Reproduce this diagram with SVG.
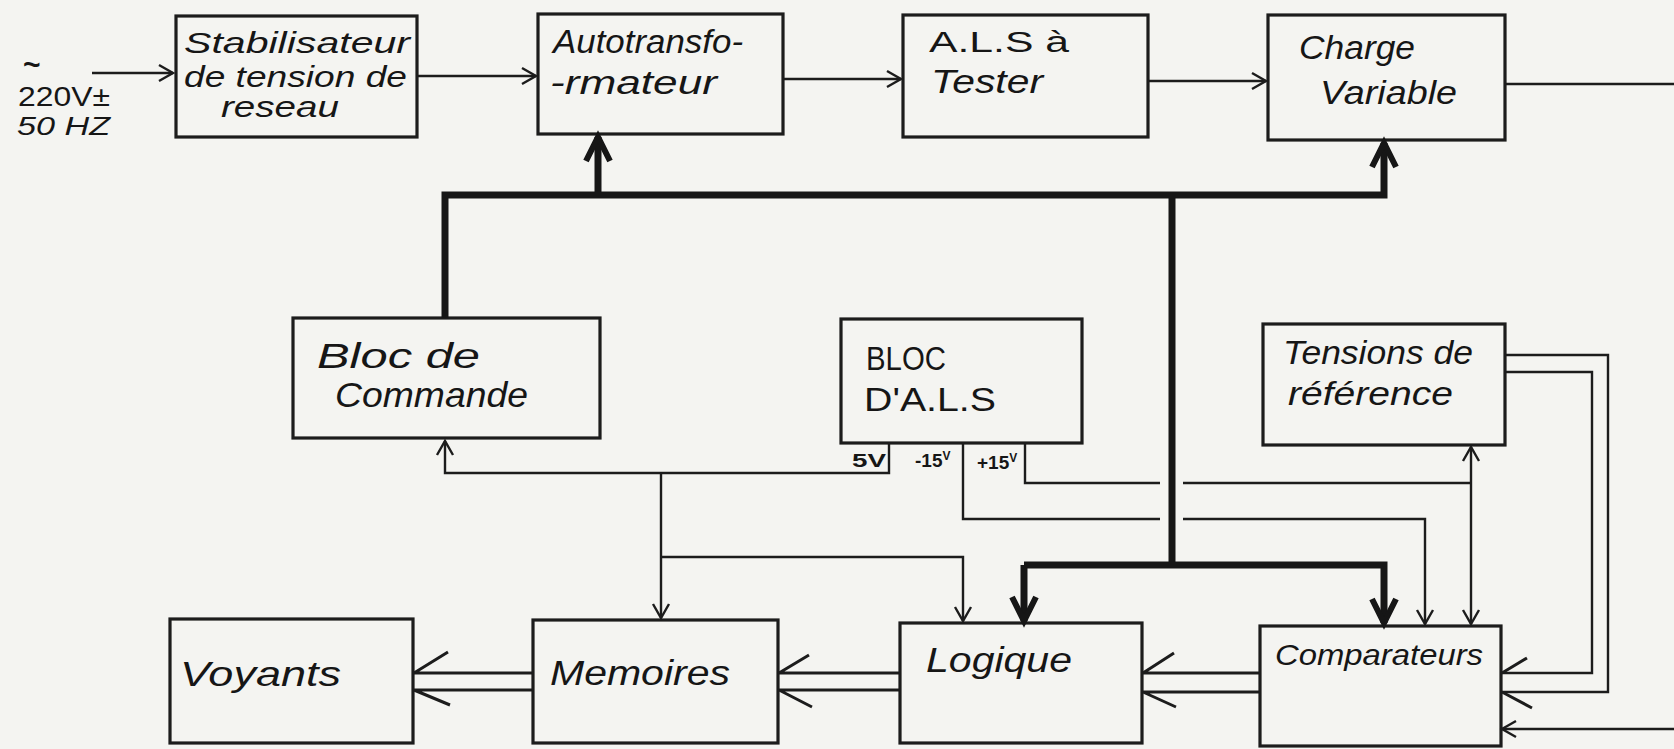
<svg xmlns="http://www.w3.org/2000/svg" width="1674" height="749" viewBox="0 0 1674 749">
<style>
.box{fill:none;stroke:#1c1c1c;stroke-width:3.2}
.t{font-family:"Liberation Sans","DejaVu Sans",sans-serif;font-style:italic;fill:#161616}
.s28{font-size:29px}
.s32{font-size:33px}
.s34{font-size:35px}
.n{font-family:"Liberation Sans","DejaVu Sans",sans-serif;fill:#161616}
.sm{font-family:"Liberation Sans","DejaVu Sans",sans-serif;font-size:19px;font-weight:bold;fill:#161616}
.thin{fill:none;stroke:#1c1c1c;stroke-width:2.4}
.dbl{fill:none;stroke:#1c1c1c;stroke-width:3}
.thick{fill:none;stroke:#161616;stroke-width:7}
</style>
<defs>
<marker id="a" markerUnits="userSpaceOnUse" markerWidth="30" markerHeight="30" viewBox="-20 -15 30 30" refX="0" refY="0" orient="auto" overflow="visible">
<path d="M-14,-8 L0,0 L-14,8" fill="none" stroke="#1c1c1c" stroke-width="2.4"/>
</marker>
<marker id="b" markerUnits="userSpaceOnUse" markerWidth="40" markerHeight="40" viewBox="-30 -20 40 40" refX="0" refY="0" orient="auto" overflow="visible">
<path d="M-24,-12 L0,0 L-24,12" fill="none" stroke="#161616" stroke-width="6"/>
</marker>
</defs>
<rect width="1674" height="749" fill="#f4f4f1"/>

<g id="input">
<text class="n" style="font-size:30px;font-weight:bold" x="23" y="75">~</text>
<text class="n" style="font-size:27px" x="18" y="106" textLength="92" lengthAdjust="spacingAndGlyphs">220V±</text>
<text class="t" style="font-size:26px" x="17" y="135" textLength="93" lengthAdjust="spacingAndGlyphs">50 HZ</text>
</g>

<g id="stabilisateur">
<rect class="box" x="176" y="16" width="241" height="121"/>
<text class="t s28" x="184" y="53" textLength="226" lengthAdjust="spacingAndGlyphs">Stabilisateur</text>
<text class="t s28" x="184" y="87" textLength="223" lengthAdjust="spacingAndGlyphs">de tension de</text>
<text class="t s28" x="221" y="117" textLength="118" lengthAdjust="spacingAndGlyphs">reseau</text>
</g>

<g id="autotransformateur">
<rect class="box" x="538" y="14" width="245" height="120"/>
<text class="t s32" x="553" y="53" textLength="190" lengthAdjust="spacingAndGlyphs">Autotransfo-</text>
<text class="t s32" x="550" y="94" textLength="167" lengthAdjust="spacingAndGlyphs">-rmateur</text>
</g>

<g id="als_a_tester">
<rect class="box" x="903" y="15" width="245" height="122"/>
<text class="n s28" x="929" y="52" textLength="140" lengthAdjust="spacingAndGlyphs">A.L.S à</text>
<text class="t s32" x="931" y="93" textLength="112" lengthAdjust="spacingAndGlyphs">Tester</text>
</g>

<g id="charge_variable">
<rect class="box" x="1268" y="15" width="237" height="125"/>
<text class="t s32" x="1299" y="59" textLength="116" lengthAdjust="spacingAndGlyphs">Charge</text>
<text class="t s32" x="1320" y="104" textLength="137" lengthAdjust="spacingAndGlyphs">Variable</text>
</g>

<g id="bloc_commande">
<rect class="box" x="293" y="318" width="307" height="120"/>
<text class="t s34" x="317" y="368" textLength="163" lengthAdjust="spacingAndGlyphs">Bloc de</text>
<text class="t s34" x="335" y="407" textLength="193" lengthAdjust="spacingAndGlyphs">Commande</text>
</g>

<g id="bloc_als">
<rect class="box" x="841" y="319" width="241" height="124"/>
<text class="n s32" x="866" y="370" textLength="80" lengthAdjust="spacingAndGlyphs">BLOC</text>
<text class="n s32" x="864" y="411" textLength="132" lengthAdjust="spacingAndGlyphs">D'A.L.S</text>
<text class="sm" x="852" y="467" textLength="34" lengthAdjust="spacingAndGlyphs">5V</text>
<text class="sm" x="915" y="467">-15<tspan style="font-size:12px" dy="-7">V</tspan></text>
<text class="sm" x="977" y="469">+15<tspan style="font-size:12px" dy="-7">V</tspan></text>
</g>

<g id="tensions_reference">
<rect class="box" x="1263" y="324" width="242" height="121"/>
<text class="t s32" x="1283" y="364" textLength="190" lengthAdjust="spacingAndGlyphs">Tensions de</text>
<text class="t s32" x="1288" y="405" textLength="165" lengthAdjust="spacingAndGlyphs">référence</text>
</g>

<g id="voyants">
<rect class="box" x="170" y="619" width="243" height="124"/>
<text class="t s34" x="180" y="686" textLength="161" lengthAdjust="spacingAndGlyphs">Voyants</text>
</g>

<g id="memoires">
<rect class="box" x="533" y="620" width="245" height="123"/>
<text class="t s34" x="550" y="685" textLength="180" lengthAdjust="spacingAndGlyphs">Memoires</text>
</g>

<g id="logique">
<rect class="box" x="900" y="623" width="242" height="120"/>
<text class="t s34" x="926" y="672" textLength="146" lengthAdjust="spacingAndGlyphs">Logique</text>
</g>

<g id="comparateurs">
<rect class="box" x="1260" y="626" width="241" height="120"/>
<text class="t s28" x="1275" y="665" textLength="208" lengthAdjust="spacingAndGlyphs">Comparateurs</text>
</g>

<g id="connectors">
<path class="thin" d="M92,73 H173" marker-end="url(#a)"/>
<path class="thin" d="M417,76 H536" marker-end="url(#a)"/>
<path class="thin" d="M783,79 H901" marker-end="url(#a)"/>
<path class="thin" d="M1148,81 H1266" marker-end="url(#a)"/>
<path class="thin" d="M1505,84 H1674"/>

<path class="thick" d="M445,318 V195 H1384 V143" marker-end="url(#b)"/>
<path class="thick" d="M598,195 V137" marker-end="url(#b)"/>
<path class="thick" d="M1172,195 V565"/>
<path class="thick" d="M1024,565 H1384 V623" marker-end="url(#b)"/>
<path class="thick" d="M1024,565 V621" marker-end="url(#b)"/>

<path class="thin" d="M889,443 V473 H445 V441" marker-end="url(#a)"/>
<path class="thin" d="M661,473 V618" marker-end="url(#a)"/>
<path class="thin" d="M661,557 H963 V621" marker-end="url(#a)"/>
<path class="thin" d="M963,443 V519 H1160"/>
<path class="thin" d="M1183,519 H1425 V624" marker-end="url(#a)"/>
<path class="thin" d="M1025,443 V483 H1160"/>
<path class="thin" d="M1183,483 H1471"/>
<path class="thin" d="M1471,483 V447" marker-end="url(#a)"/>
<path class="thin" d="M1471,483 V624" marker-end="url(#a)"/>

<path class="thin" d="M1505,355 H1608 V692 H1502"/>
<path class="thin" d="M1505,372 H1592 V673 H1502"/>
<path class="dbl" d="M1502,673 L1527,658 M1502,692 L1532,708"/>
<path class="thin" d="M1674,729 H1502" marker-end="url(#a)"/>

<path class="dbl" d="M1260,673 H1143 M1260,692 H1143 M1143,673 L1174,653 M1143,692 L1176,707"/>
<path class="dbl" d="M900,673 H779 M900,690 H779 M779,673 L809,655 M779,690 L812,707"/>
<path class="dbl" d="M533,673 H414 M533,690 H414 M414,673 L448,652 M414,690 L450,705"/>
</g>
</svg>
